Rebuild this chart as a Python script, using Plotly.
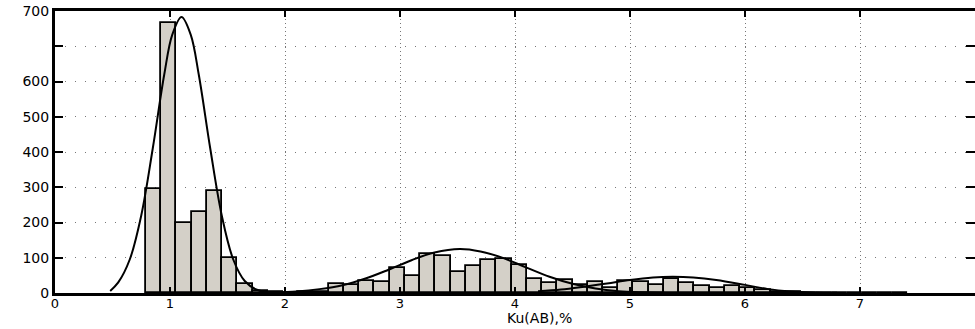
import plotly.graph_objects as go

# ---- data ----
BIN_START = 0.79
BIN_WIDTH = 0.1325
counts = [295, 766, 200, 231, 288, 99, 25, 7, 2, 1,
          2, 4, 26, 24, 33, 30, 71, 49, 110, 106,
          59, 76, 93, 97, 80, 41, 27, 37, 22, 31,
          15, 35, 30, 24, 40, 29, 21, 14, 20, 15,
          8, 3, 2, 1, 1, 0, 0, 0, 0, 1]

curve1_x = [0.48, 0.55, 0.65, 0.75, 0.85, 0.95, 1.02, 1.10, 1.18, 1.25, 1.35, 1.45, 1.55, 1.65, 1.75, 1.85]
curve1_y = [6, 30, 95, 220, 410, 620, 733, 783, 733, 620, 410, 220, 95, 34, 10, 2]

curve2_x = [1.9, 2.1, 2.3, 2.5, 2.7, 2.9, 3.1, 3.3, 3.52, 3.7, 3.9, 4.1, 4.3, 4.5, 4.7, 4.9, 5.1, 5.3]
curve2_y = [1.5, 4.5, 11, 22, 41, 66, 93, 115, 125, 118, 99, 72, 46, 26, 12.5, 5, 2, 0.7]

curve3_x = [4.2, 4.4, 4.6, 4.8, 5.0, 5.2, 5.37, 5.55, 5.75, 6.0, 6.2, 6.4, 6.6, 6.8]
curve3_y = [5, 10, 18, 27, 37, 44, 46, 44, 37, 23, 11, 4.5, 1.5, 0.5]

x_ticks = [0, 1, 2, 3, 4, 5, 6, 7, 8]
x_ticktext = ["0", "1", "2", "3", "4", "5", "6", "7", "8"]
y_ticks = [0, 100, 200, 300, 400, 500, 600, 700, 800]
y_ticktext = ["0", "100", "200", "300", "400", "500", "600", "", "700"]
right_ticks = [100, 200, 300, 400, 500, 600, 700]
x_title = "Ku(AB),%"

# ---- figure ----
centers = [BIN_START + BIN_WIDTH * (i + 0.5) for i in range(len(counts))]

fig = go.Figure()
fig.add_trace(go.Bar(
    x=centers, y=counts, width=BIN_WIDTH,
    marker=dict(color="#d4d0c8", line=dict(color="black", width=1.8)),
    hoverinfo="skip", showlegend=False))

for cx, cy, ax in [(curve1_x, curve1_y, "y"), (curve2_x, curve2_y, "y"), (curve3_x, curve3_y, "y2")]:
    fig.add_trace(go.Scatter(
        x=cx, y=cy, mode="lines", yaxis=ax,
        line=dict(color="black", width=2, shape="spline", smoothing=1.0),
        hoverinfo="skip", showlegend=False))

font = dict(family="DejaVu Sans", size=14, color="black")
xfont = dict(family="DejaVu Sans", size=13, color="black")

fig.update_layout(
    width=975, height=329,
    margin=dict(l=55, r=0, t=11, b=36),
    paper_bgcolor="white", plot_bgcolor="white",
    bargap=0,
    font=font,
    xaxis=dict(
        range=[0, 8], tickvals=x_ticks, ticktext=x_ticktext,
        showline=True, linecolor="black", linewidth=3, mirror="ticks",
        ticks="inside", ticklen=6, tickwidth=2, tickcolor="black",
        ticklabelstandoff=-4,
        showgrid=True, gridcolor="#777777", gridwidth=1, griddash="1px,3px",
        zeroline=False, tickfont=xfont, fixedrange=True),
    yaxis=dict(
        range=[0, 800], tickvals=y_ticks, ticktext=y_ticktext,
        showline=True, linecolor="black", linewidth=3, mirror=False,
        ticks="inside", ticklen=8, tickwidth=2, tickcolor="black",
        showgrid=True, gridcolor="#777777", gridwidth=1, griddash="1px,9px",
        zeroline=False, tickfont=font, fixedrange=True),
    yaxis2=dict(
        range=[0, 800], overlaying="y", side="right",
        tickvals=right_ticks, showticklabels=False,
        ticks="inside", ticklen=9, tickwidth=2, tickcolor="black",
        showline=False, showgrid=False, zeroline=False, fixedrange=True),
    annotations=[dict(
        text=x_title, xref="paper", yref="paper", x=0.527, y=-0.090,
        xanchor="center", yanchor="middle", showarrow=False,
        font=dict(family="DejaVu Sans", size=14, color="black"))],
)

fig.write_html("out.html")
